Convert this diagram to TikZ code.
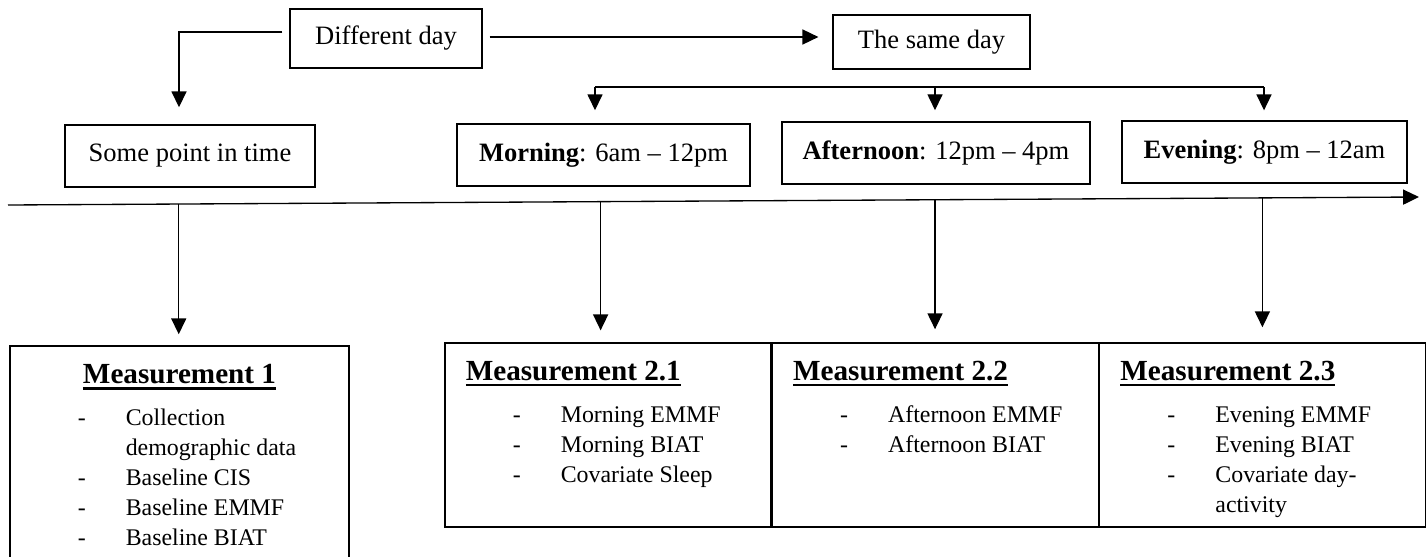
\documentclass[tikz,border=0pt]{standalone}
\usepackage{fontspec}
\setmainfont{Liberation Serif}
\usepackage{tikz}
\usetikzlibrary{positioning,calc,arrows.meta}
\newcommand\ulTitle[1]{\setbox0\hbox{#1}\rlap{\rule[-2.8pt]{\wd0}{1.2pt}}\box0}
\tikzset{
		lineStyle/.style = 	{line width = 0.6pt},
		arrowStyle/.style = 	{line width = 0.6pt, -{Triangle[length=7.2pt, width=6.8pt]}},
		timeBox/.style = 	{draw, line width = 0.6pt, inner sep=0pt, minimum height=28.1pt, font=\fontsize{12}{14}\selectfont},
		measBox/.style = 	{draw, line width = 0.6pt, minimum width=147.5pt, minimum height=83.3pt},
		titleText/.style = 	{inner sep=0pt, font=\fontsize{13.2}{16}\selectfont\bfseries},
		itemText/.style = 	{inner sep=0pt, anchor=base west, font=\fontsize{10.8}{13}\selectfont},
		node distance=0pt
}

\begin{document}
\begin{tikzpicture}[x=0.4525pt, y=-0.4525pt]
  \useasboundingbox (0,0) rectangle (1426,556);

  % Draw the boxes at the top
  \node [timeBox, minimum width=86.9pt, minimum height=26.7pt] (diffDay) at (386,38.5) {Different day};
  \node [timeBox, minimum width=89.1pt, minimum height=24.4pt] (sameDay) at (931.5,42) {The same day};
  \node [timeBox, minimum width=113.1pt] (somePoint) at (190,156) {Some point in time};
  \node [timeBox, minimum width=132.6pt] (morning) at (603.5,155) {\textbf{Morning}: 6am \textendash{} 12pm};
  \node [timeBox, minimum width=139.4pt] (afternoon) at (936,153) {\textbf{Afternoon}: 12pm \textendash{} 4pm};
  \node [timeBox, minimum width=129pt] (evening) at (1264.5,152) {\textbf{Evening}: 8pm \textendash{} 12am};

  % Draw arrows leaving the different day box
  \draw [arrowStyle, shorten >=7.7pt] ($(diffDay.west)+(-7,-6.5)$) -| ($(somePoint.north)+(-11,0)$);
  \coordinate (sameIn) at ($(sameDay.west)+(-14,-5)$);
  \draw [arrowStyle] ($(diffDay.east)+(7,-1.5)$) -- (sameIn);

  % Draw branch to the parts of the day
  \coordinate (bMorning) at (595,87);
  \coordinate (bAfternoon) at (935,87);
  \coordinate (bEvening) at (1264,87);
  \draw [lineStyle] (bMorning) -- (bEvening);
  \foreach \b/\n/\g in {bMorning/morning/5.9, bAfternoon/afternoon/5.0, bEvening/evening/4.5}
    \draw [arrowStyle, shorten >=\g pt] (\b) -- (\b |- \n.north);

  % Draw measurement boxes
  \node [measBox, minimum width=153.4pt, minimum height=105.9pt] (meas1) at (179.5,463) {};
  \node [measBox] (meas21) at (608,435) {};
  \node [measBox, right=of meas21] (meas22) {};
  \node [measBox, right=of meas22] (meas23) {};

  % Draw time line and arrows down to the measurements
  \coordinate (tStart) at (8,205);
  \coordinate (tEnd) at (1419,197);
  \draw [arrowStyle] (tStart) -- (tEnd)
    coordinate [pos=0.121] (tM1) coordinate [pos=0.420] (tM21)
    coordinate [pos=0.657] (tM22) coordinate [pos=0.889] (tM23);
  \foreach \t/\m/\g in {tM1/meas1/5.0, tM21/meas21/5.4, tM22/meas22/5.9, tM23/meas23/6.8}
    \draw [arrowStyle, shorten >=\g pt] (\t) -- (\t |- \m.north);

  % Titles
  \node [titleText, anchor=base] (title1) at ($(meas1.north)+(0,38)$) {\ulTitle{Measurement 1}};
  \foreach \m/\s/\k in {meas21/2.1/21, meas22/2.2/22, meas23/2.3/23}
    \node [titleText, anchor=base west] (title\k) at ($(\m.north west)+(21,38)$) {\ulTitle{Measurement \s}};

  % Items of measurement 1
  \foreach \txt [count=\i] in {Collection, demographic data, Baseline CIS, Baseline EMMF, Baseline BIAT}
    \node [itemText] (m1Item\i) at ($(meas1.north west)+(116,50+30*\i)$) {\txt};
  \foreach \i in {1,3,4,5}
    \node [itemText] (m1Dash\i) at ($(meas1.north west)+(68,50+30*\i)$) {-};

  % Items of measurement 2.1, 2.2 and 2.3
  \foreach \txt [count=\i] in {Morning EMMF, Morning BIAT, Covariate Sleep}
   {\node [itemText] (m21Dash\i) at ($(meas21.north west)+(68,50+30*\i)$) {-};
    \node [itemText] (m21Item\i) at ($(meas21.north west)+(116,50+30*\i)$) {\txt};}
  \foreach \txt [count=\i] in {Afternoon EMMF, Afternoon BIAT}
   {\node [itemText] (m22Dash\i) at ($(meas22.north west)+(68,50+30*\i)$) {-};
    \node [itemText] (m22Item\i) at ($(meas22.north west)+(116,50+30*\i)$) {\txt};}
  \foreach \txt [count=\i] in {Evening EMMF, Evening BIAT, Covariate day-, activity}
    \node [itemText] (m23Item\i) at ($(meas23.north west)+(116,50+30*\i)$) {\txt};
  \foreach \i in {1,2,3}
    \node [itemText] (m23Dash\i) at ($(meas23.north west)+(68,50+30*\i)$) {-};

\end{tikzpicture}
\end{document}
